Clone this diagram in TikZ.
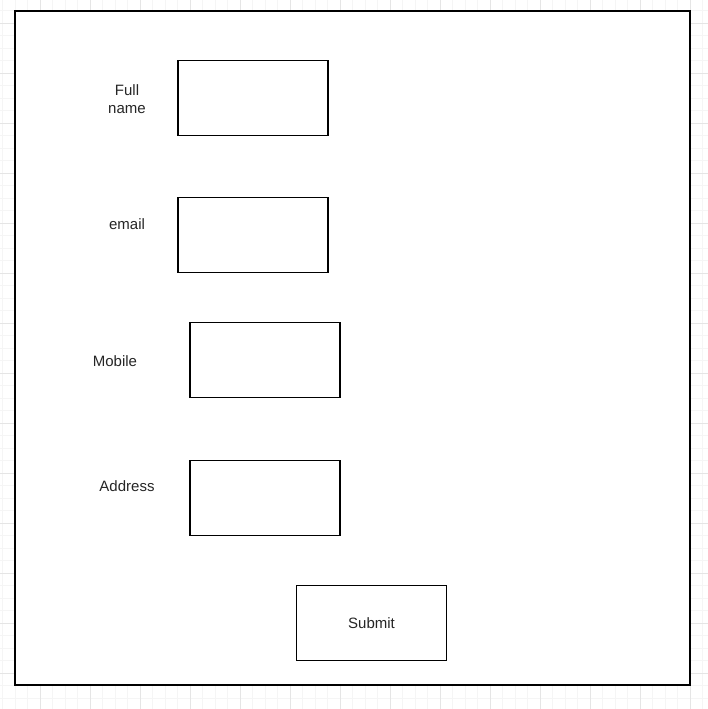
\documentclass[tikz,border=0pt]{standalone}
\usepackage{fontspec}
\setmainfont{Liberation Sans}
\begin{document}
\begin{tikzpicture}[x=1pt,y=-1pt,
  gridminor/.style={draw=black!4,line width=0.8pt},
  gridmajor/.style={draw=black!10,line width=0.8pt},
  frame/.style={draw=black,fill=white,line width=1.2pt,minimum width=675pt,minimum height=674pt,inner sep=0pt,outer sep=0pt},
  field/.style={draw=black,fill=white,line width=1.1pt,minimum width=150pt,minimum height=75pt,inner sep=0pt,outer sep=0pt},
  lbl/.style={align=center,font=\fontsize{15}{18}\selectfont,inner sep=0pt,text=black!85},
  btn/.style={field,font=\fontsize{15}{18}\selectfont,text=black!85}]
\useasboundingbox (0,0) rectangle (708,709);
\fill[white] (0,0) rectangle (708,709);
% background grid
\foreach \i in {0,...,56}{
  \pgfmathsetmacro{\xx}{2.5+12.5*\i}
  \draw[gridminor] (\xx,0) -- (\xx,709);
}
\foreach \i in {0,...,56}{
  \pgfmathsetmacro{\yy}{10.5+12.5*\i}
  \draw[gridminor] (0,\yy) -- (708,\yy);
}
\foreach \i in {0,...,14}{
  \pgfmathsetmacro{\xx}{40+50*\i}
  \draw[gridmajor] (\xx,0) -- (\xx,709);
}
\foreach \i in {-1,...,14}{
  \pgfmathsetmacro{\yy}{23+50*\i}
  \draw[gridmajor] (0,\yy) -- (708,\yy);
}
% outer frame
\node[frame] (frame) at (352.5,348) {};
% fields
\node[field] (fullname) at (253,98) {};
\node[field] (email) at (253,235) {};
\node[field] (mobile) at (265,360) {};
\node[field] (address) at (265,498) {};
\node[btn] (submit) at (371.5,623) {Submit};
% labels
\node[lbl] (lfull) at (127,99) {Full\\name};
\node[lbl] (lemail) at (127,224) {email};
\node[lbl] (lmobile) at (115,361) {Mobile};
\node[lbl] (laddress) at (127,486) {Address};
\end{tikzpicture}
\end{document}
